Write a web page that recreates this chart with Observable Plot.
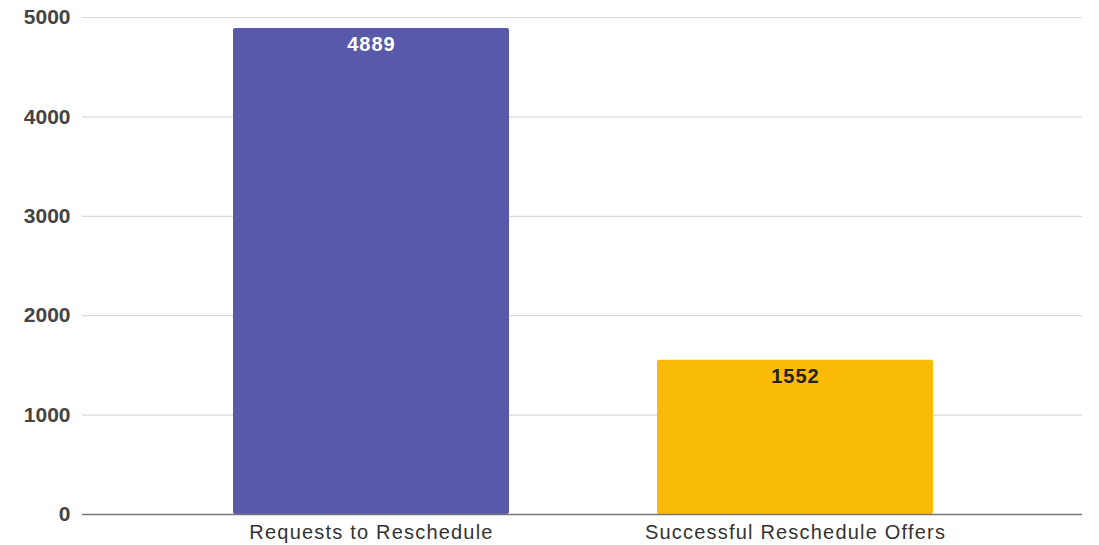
<!DOCTYPE html>
<html>
<head>
<meta charset="utf-8">
<script src="https://cdn.jsdelivr.net/npm/d3@7"></script>
<script src="https://cdn.jsdelivr.net/npm/@observablehq/plot@0.6"></script>
<style>
  html, body { margin: 0; padding: 0; background: #fff; }
  #chart svg { display: block; }
  .xax text { letter-spacing: 1.2px; }
  .vals text { letter-spacing: 1px; }
</style>
</head>
<body>
<div id="chart"></div>
<script>
const categories = ["Requests to Reschedule", "Successful Reschedule Offers"];
const values = [4889, 1552];
const barColors = ["#5959a9", "#f9bb07"];
const labelColors = ["#ffffff", "#222222"];
const yTicks = [0, 1000, 2000, 3000, 4000, 5000];

const data = categories.map((c, i) => ({category: c, value: values[i], color: barColors[i], labelColor: labelColors[i]}));

const chart = Plot.plot({
  width: 1099,
  height: 545,
  marginLeft: 82,
  marginRight: 17,
  marginTop: 17,
  marginBottom: 31,
  style: {fontFamily: "'Liberation Sans', Arial, sans-serif", background: "#fff"},
  x: {domain: categories, padding: 0.35, insetLeft: 2, label: null},
  y: {domain: [0, 5000], label: null},
  marks: [
    Plot.ruleY(yTicks.filter(d => d > 0), {stroke: "#d9d9d9", strokeWidth: 1.2}),
    Plot.barY(data, {x: "category", y: "value", fill: "color", rx: 2}),
    Plot.ruleY([0], {stroke: "#777", strokeWidth: 1.5}),
    Plot.text(data, {x: "category", y: "value", text: d => String(d.value), fill: "labelColor", dy: 16, fontSize: 20, fontWeight: "bold", lineAnchor: "middle", className: "vals"}),
    Plot.axisY({ticks: yTicks, tickSize: 0, tickPadding: 12, fontSize: 21, fontWeight: "bold", color: "#444", tickFormat: d => String(d)}),
    Plot.axisX({tickSize: 0, tickPadding: 10, fontSize: 20, color: "#333", className: "xax"})
  ]
});
document.getElementById("chart").appendChild(chart);
</script>
</body>
</html>
